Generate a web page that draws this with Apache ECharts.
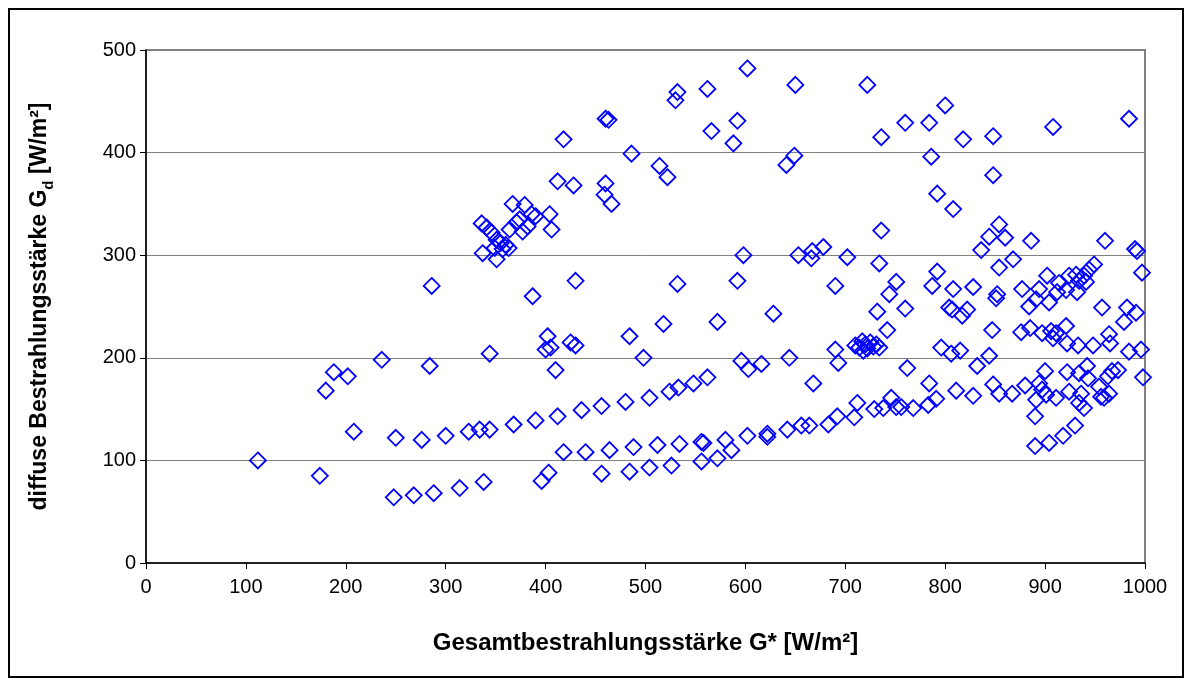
<!DOCTYPE html>
<html>
<head>
<meta charset="utf-8">
<title>diffuse Bestrahlungsstärke</title>
<script src="https://cdn.jsdelivr.net/npm/echarts/dist/echarts.min.js"></script>
<style>
  html, body { margin: 0; padding: 0; background: #fff; }
  #chart { width: 1192px; height: 686px; }
</style>
</head>
<body>
<div id="chart"></div>
<script>
// Gesamtbestrahlungsstärke G* [W/m²] (x) und diffuse Bestrahlungsstärke Gd [W/m²] (y)
var gesamt = [
  112, 174, 180, 188, 202, 208, 236, 248, 250, 268, 276, 284, 286, 288, 300, 314, 323, 334, 338, 344, 344,
  336, 341, 346, 351, 337, 349, 351, 355, 357, 360, 363, 364, 367, 371, 374, 377, 379, 382, 386, 390, 404, 406,
  387, 400, 402, 405, 410, 418, 412, 425, 428, 430, 430, 460, 463, 460, 459, 466, 486, 514, 522, 530, 532,
  484, 498, 518, 532,
  368, 390, 412, 436, 456, 480, 504, 524, 533, 548,
  396, 403, 456, 484, 504, 526,
  418, 440, 464, 488, 512, 534, 556,
  556, 558, 572, 580, 586, 602, 622, 622, 642, 656, 664, 683, 692, 709, 712, 729, 738, 746, 751, 756, 768, 783, 791,
  562, 596, 603, 616, 644, 668, 690, 693, 572, 628, 592, 598, 653, 666, 667, 678, 690, 702, 734, 732, 742, 744, 751, 760, 736,
  562, 602, 650, 722, 566, 592, 588, 736, 760, 649, 641,
  710, 714, 717, 720, 722, 725, 728, 731, 734, 718,
  784, 800, 818, 848, 908, 984, 786, 848, 792, 808, 854, 844, 860, 836, 886, 960, 990, 992, 868, 854,
  792, 787, 808, 828, 997, 852, 851, 877, 891, 894, 912, 921, 932, 941,
  902, 914, 924, 931, 934, 939, 944, 949,
  884, 904, 957, 804, 807, 822, 817, 982, 991, 979,
  847, 876, 885, 897, 906, 908, 911, 921, 922, 933, 948, 964, 965, 984, 996,
  796, 806, 815, 844, 832, 762, 784,
  811, 828, 848, 854, 867, 880, 900, 894, 897, 901, 911, 891, 890,
  922, 924, 934, 942, 943, 936, 934, 939, 954, 956, 959, 963, 967, 973, 964, 998,
  930, 918, 904, 890
];
var diffus = [
  100, 85, 168, 186, 182, 128, 198, 64, 122, 66, 120, 192, 270, 68, 124, 73, 128, 130, 79, 130, 204,
  331, 327, 322, 315, 302, 307, 296, 312, 306, 310, 307, 325, 350, 332, 335, 323, 349, 328, 340, 338, 340, 325,
  260, 208, 221, 210, 188, 413, 372, 215, 368, 212, 275, 433, 432, 370, 359, 350, 399, 387, 376, 451, 459,
  221, 200, 233, 272,
  135, 139, 143, 149, 153, 157, 161, 167, 171, 175,
  80, 88, 87, 89, 93, 95,
  108, 108, 110, 113, 115, 116, 118,
  99, 117, 102, 120, 110, 124, 126, 123, 130, 134, 134, 135, 143, 142, 156, 150, 151, 161, 152, 152, 151, 154, 160,
  181, 197, 189, 194, 200, 175, 208, 195, 235, 243, 275, 300, 300, 297, 304, 308, 270, 298, 292, 245, 227, 262, 274, 248, 324,
  462, 482, 466, 466, 421, 431, 409, 415, 429, 397, 388,
  212, 210, 216, 213, 209, 215, 211, 213, 210, 207,
  429, 446, 413, 416, 425, 433, 396, 378, 360, 345, 330, 318, 317, 305, 314, 314, 306, 304, 296, 288,
  284, 270, 267, 269, 283, 262, 258, 267, 257, 267, 264, 266, 264, 274,
  280, 273, 280, 281, 275, 280, 286, 291,
  250, 254, 249, 249, 247, 247, 241, 249, 244, 235,
  227, 225, 229, 224, 226, 219, 224, 231, 214, 212, 212, 223, 214, 206, 208,
  210, 204, 207, 202, 192, 190, 175,
  168, 163, 174, 165, 165, 173, 187, 175, 169, 164, 161, 159, 143,
  186, 167, 185, 192, 180, 165, 156, 151, 172, 162, 161, 182, 187, 188, 165, 181,
  134, 124, 117, 114
];

var xTicks = { min: 0, max: 1000, interval: 100 };
var yTicks = { min: 0, max: 500, interval: 100 };

var points = gesamt.map(function (g, i) { return [g, diffus[i]]; });

var myChart = echarts.init(document.getElementById('chart'));
myChart.setOption({
  backgroundColor: '#fff',
  animation: false,
  textStyle: { fontFamily: 'Liberation Sans, Arial, sans-serif' },
  // äußerer Rahmen
  graphic: [{
    type: 'rect',
    shape: { x: 9, y: 9, width: 1174, height: 668 },
    style: { fill: 'none', stroke: '#000', lineWidth: 2 },
    z: 100
  }],
  grid: {
    left: 146,
    right: 47,
    top: 50,
    bottom: 123,
    show: true,
    borderColor: '#808080',
    borderWidth: 2,
    backgroundColor: '#fff'
  },
  xAxis: {
    type: 'value',
    min: xTicks.min,
    max: xTicks.max,
    interval: xTicks.interval,
    name: 'Gesamtbestrahlungsstärke G* [W/m²]',
    nameLocation: 'middle',
    nameGap: 68,
    nameTextStyle: { fontSize: 24, fontWeight: 'bold', color: '#000' },
    axisLine: { onZero: false, lineStyle: { color: '#000', width: 1.5 } },
    axisTick: { show: true, length: 6, lineStyle: { color: '#000' } },
    axisLabel: { fontSize: 20, color: '#000', margin: 14, formatter: function (v) { return String(v); } },
    splitLine: { show: false }
  },
  yAxis: {
    type: 'value',
    min: yTicks.min,
    max: yTicks.max,
    interval: yTicks.interval,
    name: 'diffuse Bestrahlungsstärke G{sub|d} [W/m²]',
    nameLocation: 'middle',
    nameGap: 90,
    nameTextStyle: {
      fontSize: 23, fontWeight: 'bold', color: '#000',
      rich: {
        sub: { fontSize: 15, fontWeight: 'bold', color: '#000', verticalAlign: 'bottom', lineHeight: 32 }
      }
    },
    axisLine: { show: true, lineStyle: { color: '#000', width: 1.5 } },
    axisTick: { show: true, length: 6, lineStyle: { color: '#000' } },
    axisLabel: { fontSize: 20, color: '#000', margin: 10 },
    splitLine: { show: true, lineStyle: { color: '#808080', width: 1 } }
  },
  series: [{
    type: 'scatter',
    data: points,
    symbol: 'diamond',
    symbolSize: 16,
    itemStyle: { color: 'rgba(0,0,0,0)', borderColor: '#0000ff', borderWidth: 1.8, opacity: 1 }
  }]
});
</script>
</body>
</html>
